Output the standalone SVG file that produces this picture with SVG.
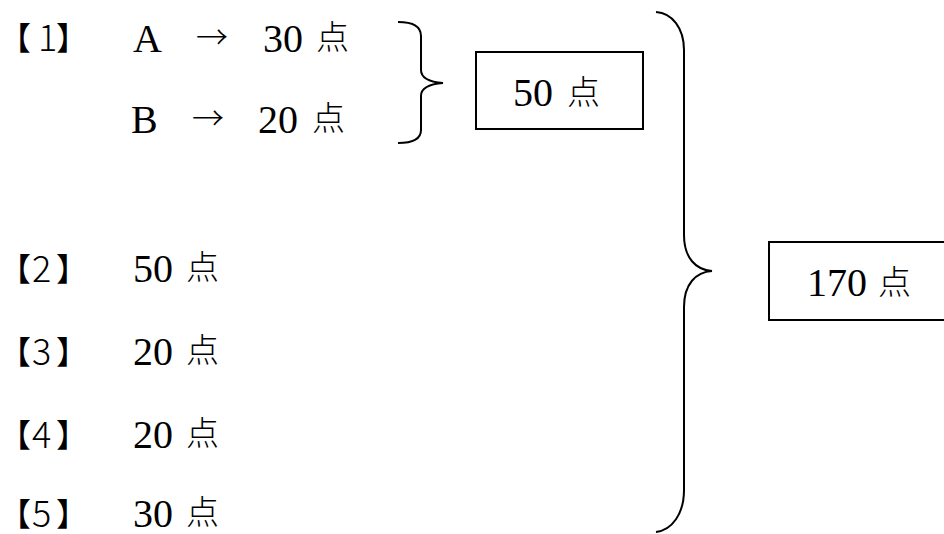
<svg xmlns="http://www.w3.org/2000/svg" width="944" height="534" viewBox="0 0 944 534">
<style>
.num{font-family:"Liberation Serif","Times New Roman",serif;font-size:40px;fill:#000}
.cjk{font-family:"Noto Sans CJK JP","Noto Sans CJK SC",sans-serif;font-size:33px;font-weight:200;fill:#000}
.brk{font-family:"Noto Sans CJK JP","Noto Sans CJK SC",sans-serif;font-size:32px;fill:#000}
.bd{font-family:"Noto Sans CJK JP","Noto Sans CJK SC",sans-serif;font-size:36px;font-weight:200;fill:#000}
.arr{font-family:"Noto Sans CJK JP","Noto Sans CJK SC",sans-serif;font-size:32px;font-weight:200;fill:#000}
.line{fill:none;stroke:#000;stroke-width:2}
</style>
<rect width="944" height="534" fill="#fff"/>
<g id="item1">
  <text class="brk"><tspan x="-1" y="50">【</tspan><tspan x="56" y="50">】</tspan></text>
  <text class="bd" x="38" y="51">1</text>
  <text class="num" x="133" y="52">A</text>
  <text class="arr" x="196" y="49">→</text>
  <text class="num" x="263" y="52">30</text>
  <text class="cjk" x="316" y="49">点</text>
  <text class="num" x="131" y="133">B</text>
  <text class="arr" x="192" y="130">→</text>
  <text class="num" x="258" y="133">20</text>
  <text class="cjk" x="312" y="130">点</text>
</g>
<g id="item2">
  <text class="brk"><tspan x="-1" y="281">【</tspan><tspan x="56" y="281">】</tspan></text>
  <text class="bd" x="32" y="282">2</text>
  <text class="num" x="133" y="282">50</text>
  <text class="cjk" x="186" y="279">点</text>
</g>
<g id="item3">
  <text class="brk"><tspan x="-1" y="364">【</tspan><tspan x="56" y="364">】</tspan></text>
  <text class="bd" x="32" y="365">3</text>
  <text class="num" x="133" y="365">20</text>
  <text class="cjk" x="186" y="362">点</text>
</g>
<g id="item4">
  <text class="brk"><tspan x="-1" y="447">【</tspan><tspan x="56" y="447">】</tspan></text>
  <text class="bd" x="32" y="448">4</text>
  <text class="num" x="133" y="448">20</text>
  <text class="cjk" x="186" y="445">点</text>
</g>
<g id="item5">
  <text class="brk"><tspan x="-1" y="526">【</tspan><tspan x="56" y="526">】</tspan></text>
  <text class="bd" x="32" y="527">5</text>
  <text class="num" x="133" y="527">30</text>
  <text class="cjk" x="186" y="524">点</text>
</g>
<g id="box50">
  <rect class="line" x="476" y="52" width="167" height="77"/>
  <text class="num" x="513" y="106">50</text>
  <text class="cjk" x="567" y="104">点</text>
</g>
<g id="box170">
  <rect class="line" x="769" y="242" width="190" height="78"/>
  <text class="num" x="807" y="296">170</text>
  <text class="cjk" x="878" y="294">点</text>
</g>
<g id="connectors">
  <path class="line" d="M398,22 C412,22 421,26 421,36 L421,70 C421,78 430,82 443,83 C430,84 421,88 421,96 L421,130 C421,139 412,143 398,143"/>
  <path class="line" d="M656,12 C672,13 684,28 684,50 L684,235 C684,258 696,270 712,271 C696,272 684,284 684,307 L684,490 C684,514 672,530 656,532"/>
</g>
</svg>
